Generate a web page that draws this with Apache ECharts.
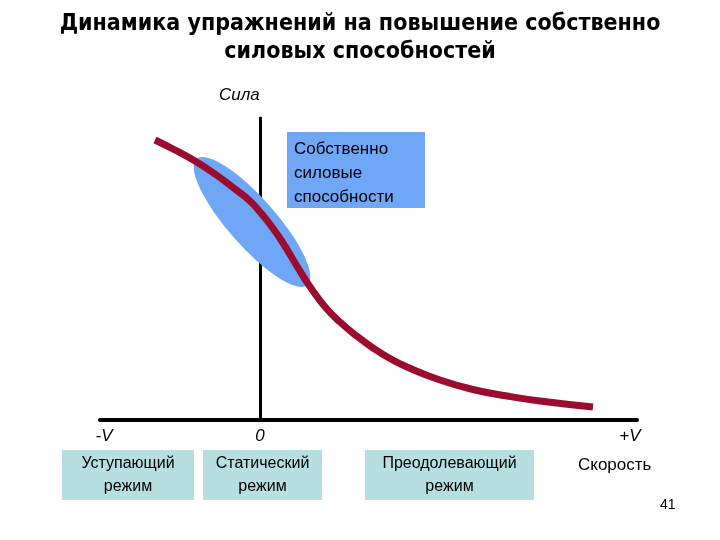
<!DOCTYPE html>
<html><head><meta charset="utf-8">
<script src="https://cdn.jsdelivr.net/npm/echarts@6/dist/echarts.min.js"></script>
<style>html,body{margin:0;padding:0;background:#fff}#c{width:720px;height:540px}</style>
</head><body><div id="c"></div>
<script>
// Velocity (x) and force (y), relative units; 0 = static mode
const curveX = [-1.05, -0.85, -0.65, -0.45, -0.25, -0.10, 0.00, 0.12, 0.23, 0.33, 0.43, 0.53, 0.66, 0.80, 0.96, 1.13, 1.30, 1.47, 1.80, 2.13, 2.47, 2.80, 3.33];
const curveY = [2.80, 2.70, 2.59, 2.46, 2.31, 2.19, 2.08, 1.93, 1.77, 1.605, 1.44, 1.29, 1.12, 0.98, 0.845, 0.72, 0.615, 0.53, 0.40, 0.305, 0.24, 0.19, 0.13];
const tickValues = [-1.56, 0, 3.70];
const tickLabels = ['-V', '0', '+V'];
const zoneCenter = [-0.08, 1.98]; // "собственно силовые" zone
const modeLabels = ['Уступающий\nрежим', 'Статический\nрежим', 'Преодолевающий\nрежим'];

const chart = echarts.init(document.getElementById('c'));
const F = 'Liberation Sans, Arial, sans-serif';
const teal = '#b7dfe0';
function modeBox(x, w, text) {
  return {
    type: 'group', left: x, top: 450, children: [
      { type: 'rect', shape: { x: 0, y: 0, width: w, height: 50 }, style: { fill: teal } },
      { type: 'text', x: w / 2, y: 25, style: { text: text, fill: '#000', font: '16px ' + F, align: 'center', verticalAlign: 'middle', lineHeight: 23 } }
    ]
  };
}
chart.setOption({
  animation: false,
  title: {
    text: 'Динамика упражнений на повышение собственно\nсиловых способностей',
    left: 'center', top: 5,
    textStyle: { fontFamily: 'Liberation Sans Narrow, Arial Narrow, DejaVu Sans Condensed, sans-serif', fontWeight: 'bold', fontSize: 23, lineHeight: 28, color: '#000', align: 'center' }
  },
  grid: { left: 100, right: 83, top: 118, bottom: 120 },
  xAxis: {
    type: 'value', min: -1.6, max: 3.77,
    splitLine: { show: false },
    axisTick: { show: false },
    axisLine: { lineStyle: { color: '#000', width: 4 } },
    axisLabel: {
      customValues: tickValues, showMinLabel: true, showMaxLabel: true,
      formatter: v => tickLabels[tickValues.indexOf(v)],
      fontStyle: 'italic', fontSize: 17, color: '#000', fontFamily: F, margin: 8
    }
  },
  yAxis: {
    type: 'value', min: 0, max: 3.02,
    splitLine: { show: false }, axisTick: { show: false }, axisLabel: { show: false },
    axisLine: { show: true, onZero: true, lineStyle: { color: '#000', width: 3 } }
  },
  graphic: [
    { type: 'text', left: 219, top: 87, style: { text: 'Сила', font: 'italic 17px ' + F, fill: '#000' } },
    { type: 'group', left: 287, top: 132, children: [
      { type: 'rect', shape: { x: 0, y: 0, width: 138, height: 76 }, style: { fill: '#6fa6f6' } },
      { type: 'text', x: 7, y: 5, style: { text: 'Собственно\nсиловые\nспособности', font: '17px ' + F, fill: '#000', lineHeight: 24 } }
    ]},
    modeBox(62, 132, modeLabels[0]),
    modeBox(203, 119, modeLabels[1]),
    modeBox(365, 169, modeLabels[2]),
    { type: 'text', left: 578, top: 457, style: { text: 'Скорость', font: '17px ' + F, fill: '#000' } },
    { type: 'text', left: 660, top: 498, style: { text: '41', font: '14px ' + F, fill: '#000' } }
  ],
  series: [
    {
      type: 'custom', z: 1, silent: true,
      data: [zoneCenter],
      renderItem: function (params, api) {
        const p = api.coord([api.value(0), api.value(1)]);
        return {
          type: 'circle', x: p[0], y: p[1],
          rotation: -Math.atan2(125, 110), scaleX: 84, scaleY: 24,
          shape: { cx: 0, cy: 0, r: 1 },
          style: { fill: '#6fa6f6' }
        };
      }
    },
    {
      type: 'line', z: 3, smooth: 0.5, showSymbol: false, silent: true,
      data: curveX.map((x, i) => [x, curveY[i]]),
      lineStyle: { color: '#9b0c2e', width: 7, cap: 'butt' }
    }
  ]
});
</script></body></html>
